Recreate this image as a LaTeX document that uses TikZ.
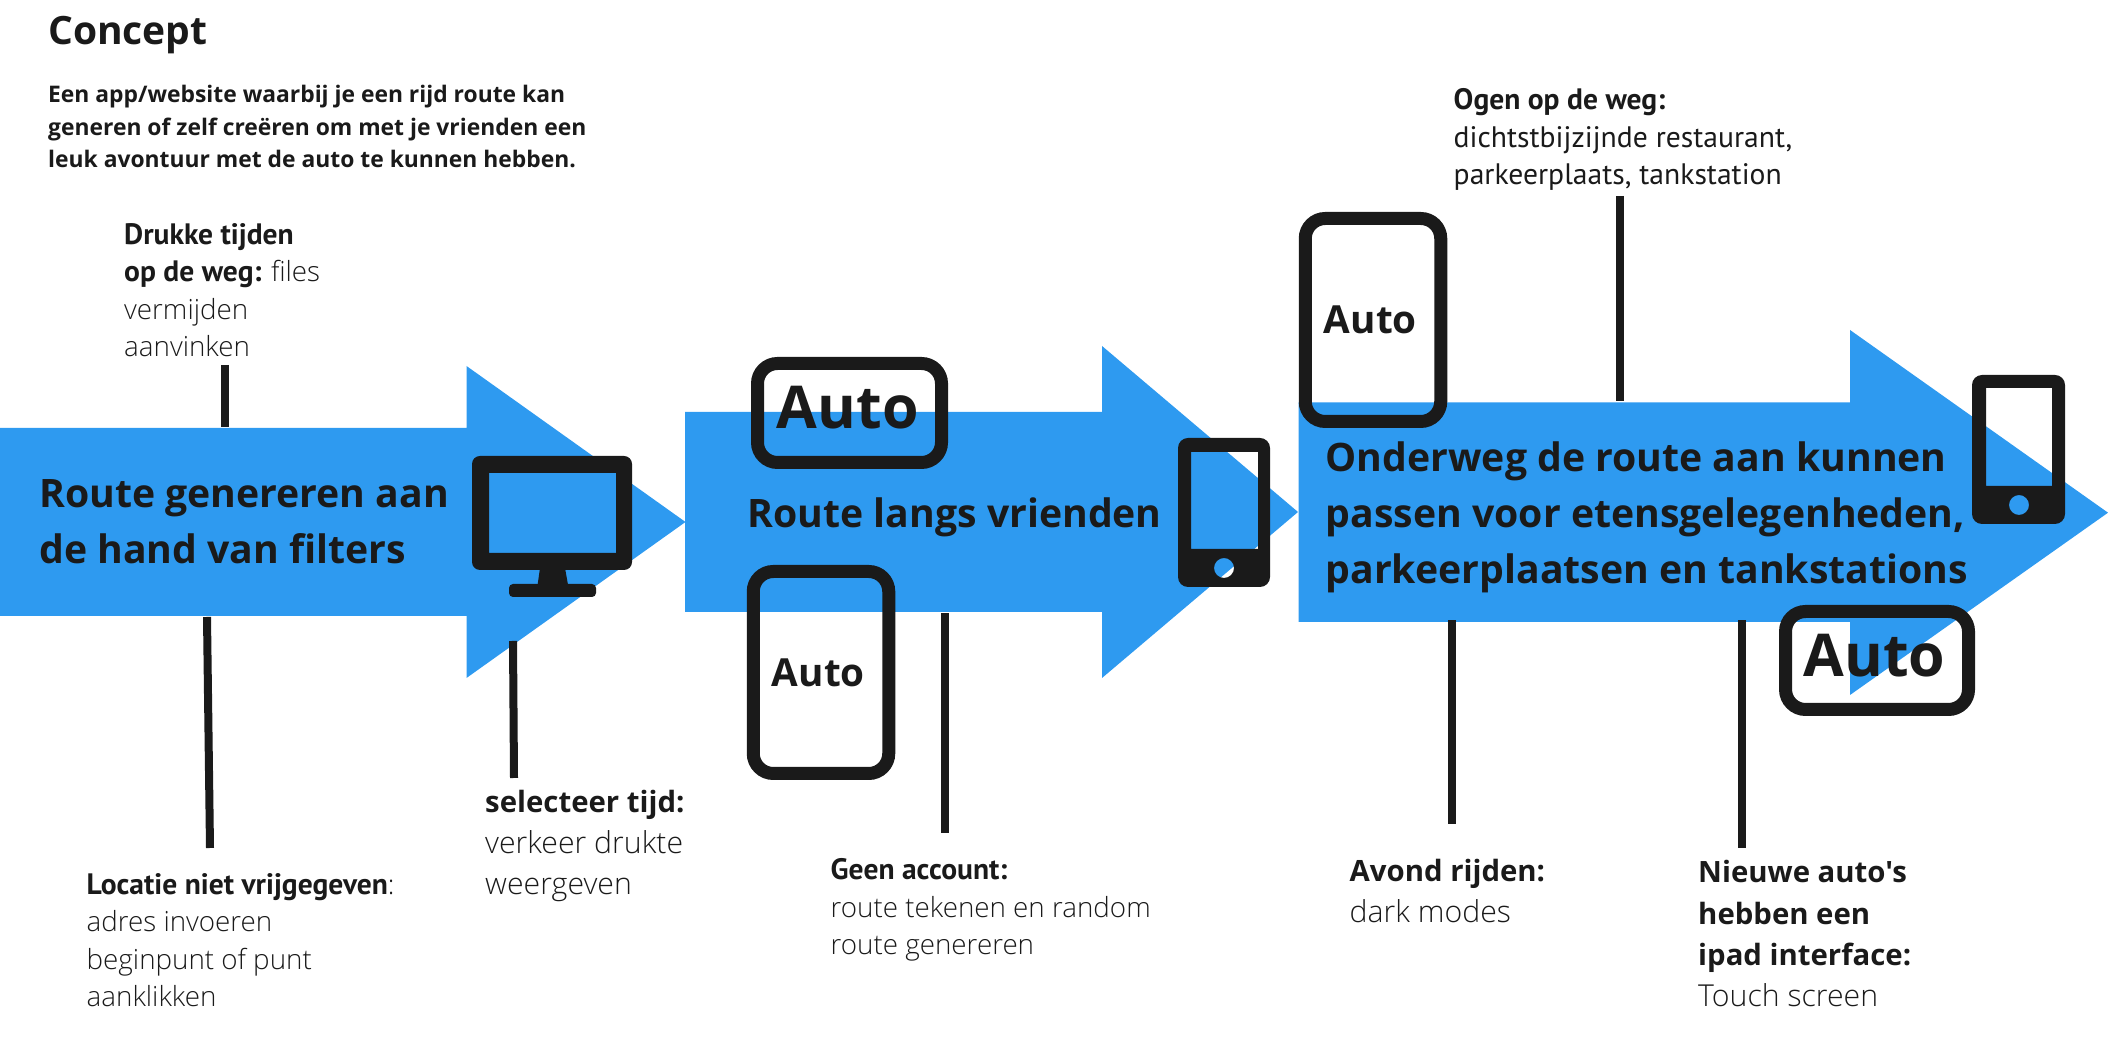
\documentclass[tikz,border=0pt]{standalone}
\usepackage{fontspec}
\usepackage{xcolor}
\usepackage{tikz}
\usetikzlibrary{positioning, calc}
\setmainfont{Open Sans}[Ligatures=TeXOff]
\newfontfamily\ptfont{PT Sans}
\newfontfamily\lightfont{Open Sans Light}
\definecolor{routeblue}{HTML}{2E9AF0}
\definecolor{inkdark}{HTML}{1A1A1A}
\newcommand{\notehead}[1]{{\ptfont\bfseries\fontsize{8.4}{10.7}\selectfont #1}}
\newcommand{\notebold}[1]{{\normalfont\bfseries\fontsize{8.35}{11.8}\selectfont #1}}

\begin{document}
\begin{tikzpicture}[
	text=inkdark,
	routearrow/.style={fill=routeblue},
	stem/.style={draw=inkdark, line width=0.08cm},
	icon/.style={fill=inkdark, even odd rule},
	autobox/.style={draw=inkdark, line width=0.13cm, rounded corners=0.2cm,
		inner sep=0pt, text depth=3pt, font=\bfseries\fontsize{16.8}{20}\selectfont},
	autosmall/.style={autobox, text depth=0pt, font=\bfseries\fontsize{11}{14}\selectfont},
	routetext/.style={anchor=base west, inner sep=0pt, align=left,
		font=\bfseries\fontsize{11.15}{16}\selectfont},
	note/.style={anchor=base west, inner sep=0pt, align=left,
		font=\lightfont\fontsize{7.9}{10.7}\selectfont},
	notewide/.style={note, font=\lightfont\fontsize{8.6}{11.8}\selectfont}
	]
	\useasboundingbox (0,0) rectangle (21.08,10.54);
	
	%--- three route arrows ----------------------------------------------------
	\fill[routearrow] (0,6.26) -- (4.665,6.26) -- (4.665,6.88) -- (6.855,5.32)
	-- (4.665,3.76) -- (4.665,4.38) -- (0,4.38) -- cycle;
	\fill[routearrow] (6.85,6.42) -- (11.02,6.42) -- (11.02,7.08) -- (12.98,5.42)
	-- (11.02,3.76) -- (11.02,4.42) -- (6.85,4.42) -- cycle;
	\fill[routearrow] (12.985,6.515) -- (18.5,6.515) -- (18.5,7.24) -- (21.08,5.413)
	-- (18.5,3.59) -- (18.5,4.32) -- (12.985,4.32) -- cycle;
	
	%--- text in the arrows ----------------------------------------------------
	\node[routetext] (filters) at (0.385,4.90)
	{Route genereren aan\\de hand van filters};
	\node[routetext] (vrienden) at (7.47,5.265) {Route langs vrienden};
	\node[routetext] (onderweg) at (13.25,4.70)
	{Onderweg de route aan kunnen\\passen voor etensgelegenheden,\\parkeerplaatsen en tankstations};
	
	%--- auto frames -----------------------------------------------------------
	\node[autobox, minimum width=1.84cm, minimum height=0.99cm] (autoA) at (8.495,6.41) {Auto\kern1pt};
	\node[autosmall, minimum width=1.355cm, minimum height=2.02cm] (autoB) at (8.21,3.815) {Auto\kern1.5pt};
	\node[autosmall, minimum width=1.355cm, minimum height=2.03cm] (autoC) at (13.73,7.34) {Auto\kern1.5pt};
	\node[autobox, minimum width=1.83cm, minimum height=0.98cm] (autoD) at (18.77,3.935) {Auto\kern1.5pt};
	
	%--- screens ---------------------------------------------------------------
	\fill[icon] [rounded corners=0.08cm] (4.72,5.98) rectangle (6.32,4.84)
	[sharp corners] (4.89,5.81) rectangle (6.16,5.01);
	\fill[icon] (5.40,4.86) -- (5.65,4.86) -- (5.70,4.58) -- (5.36,4.58) -- cycle;
	\fill[icon] [rounded corners=0.04cm] (5.09,4.70) rectangle (5.96,4.57);
	
	\fill[icon] [rounded corners=0.1cm] (11.78,6.16) rectangle (12.70,4.67)
	[sharp corners] (11.91,6.02) rectangle (12.58,5.05)
	(12.24,4.86) circle (0.1);
	\fill[icon] [rounded corners=0.1cm] (19.72,6.79) rectangle (20.65,5.30)
	[sharp corners] (19.86,6.66) rectangle (20.52,5.68)
	(20.19,5.49) circle (0.1);
	
	%--- notes -----------------------------------------------------------------
	\node[anchor=base west, inner sep=0pt, font=\bfseries\fontsize{11.1}{13}\selectfont]
	(concept) at (0.475,10.09) {Concept};
	\node[anchor=base west, inner sep=0pt, align=left, font=\bfseries\fontsize{6.5}{9.25}\selectfont]
	(intro) at (0.475,8.86)
	{Een app/website waarbij je een rijd route kan\\generen of zelf creëren om met je vrienden een\\leuk avontuur met de auto te kunnen hebben.};
	
	\node[note] (files) at (1.235,6.97)
	{\notehead{Drukke tijden}\\\notehead{op de weg:} files\\vermijden\\aanvinken};
	\node[note] (locatie) at (0.86,0.47)
	{\notehead{Locatie niet vrijgegeven}:\\adres invoeren\\beginpunt of punt\\aanklikken};
	\node[notewide] (selecteer) at (4.845,1.59)
	{\notebold{selecteer tijd:}\\verkeer drukte\\weergeven};
	\node[note] (geen) at (8.30,0.99)
	{\notehead{Geen account:}\\route tekenen en random\\route genereren};
	\node[note, font=\ptfont\fontsize{8.43}{10.7}\selectfont] (ogen) at (14.53,8.69)
	{\notehead{Ogen op de weg:}\\dichtstbijzijnde restaurant,\\parkeerplaats, tankstation};
	\node[notewide] (avond) at (13.49,1.31)
	{\notebold{Avond rijden:}\\dark modes};
	\node[notewide] (nieuwe) at (16.975,0.47)
	{\notebold{Nieuwe auto's}\\\notebold{hebben een}\\\notebold{ipad interface:}\\Touch screen};
	
	%--- stems from the notes to the arrows ------------------------------------
	\coordinate (filesEnd) at (2.25,6.89);
	\coordinate (filesArrow) at (2.25,6.27);
	\coordinate (locatieEnd) at (2.10,2.06);
	\coordinate (locatieArrow) at (2.07,4.37);
	\coordinate (selecteerEnd) at (5.14,2.76);
	\coordinate (selecteerArrow) at (5.13,4.13);
	\coordinate (geenEnd) at (9.45,2.21);
	\coordinate (geenArrow) at (9.45,4.41);
	\coordinate (ogenEnd) at (16.195,8.58);
	\coordinate (ogenArrow) at (16.195,6.53);
	\coordinate (avondEnd) at (14.52,2.30);
	\coordinate (avondArrow) at (14.52,4.34);
	\coordinate (nieuweEnd) at (17.42,2.06);
	\coordinate (nieuweArrow) at (17.42,4.34);
	
	\draw[stem] (filesEnd) -- (filesArrow);
	\draw[stem] (locatieEnd) -- (locatieArrow);
	\draw[stem] (selecteerEnd) -- (selecteerArrow);
	\draw[stem] (geenEnd) -- (geenArrow);
	\draw[stem] (ogenEnd) -- (ogenArrow);
	\draw[stem] (avondEnd) -- (avondArrow);
	\draw[stem] (nieuweEnd) -- (nieuweArrow);
\end{tikzpicture}
\end{document}
